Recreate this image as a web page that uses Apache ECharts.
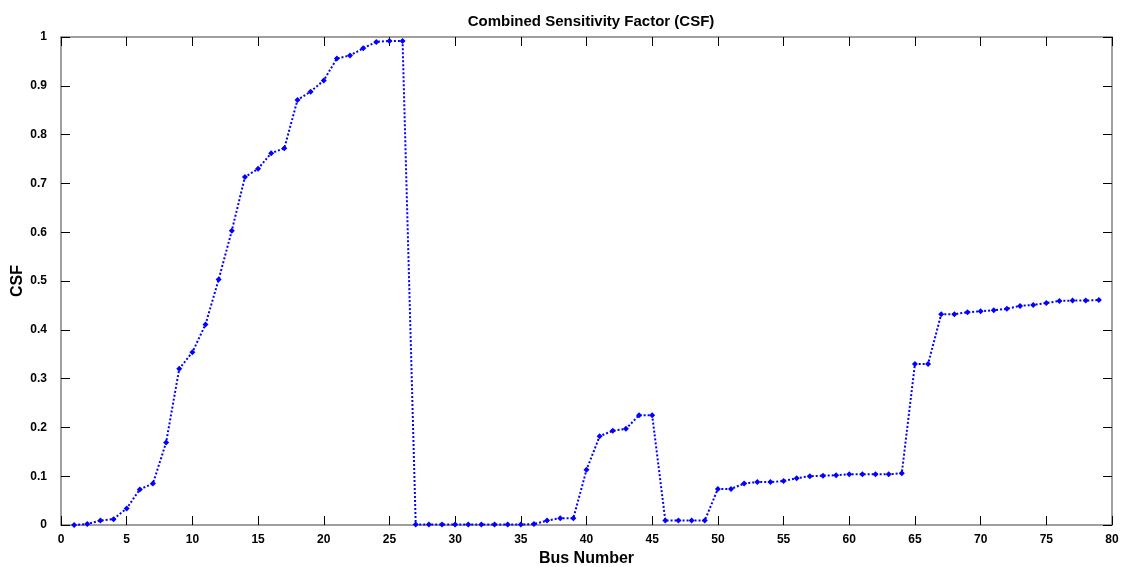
<!DOCTYPE html>
<html>
<head>
<meta charset="utf-8">
<script src="https://cdn.jsdelivr.net/npm/echarts@6/dist/echarts.min.js"></script>
<style>
  html, body { margin: 0; padding: 0; background: #fff; }
  #chart { width: 1124px; height: 567px; }
</style>
</head>
<body>
<div id="chart"></div>
<script>
var busNumbers = [1, 2, 3, 4, 5, 6, 7, 8, 9, 10, 11, 12, 13, 14, 15, 16, 17, 18, 19, 20,
  21, 22, 23, 24, 25, 26, 27, 28, 29, 30, 31, 32, 33, 34, 35, 36, 37, 38, 39, 40,
  41, 42, 43, 44, 45, 46, 47, 48, 49, 50, 51, 52, 53, 54, 55, 56, 57, 58, 59, 60,
  61, 62, 63, 64, 65, 66, 67, 68, 69, 70, 71, 72, 73, 74, 75, 76, 77, 78, 79];
var csfValues = [0.000, 0.002, 0.009, 0.012, 0.034, 0.073, 0.085, 0.169, 0.320, 0.354,
  0.411, 0.503, 0.603, 0.713, 0.730, 0.762, 0.772, 0.871, 0.888, 0.911,
  0.956, 0.962, 0.977, 0.990, 0.992, 0.992, 0.001, 0.001, 0.001, 0.001,
  0.001, 0.001, 0.001, 0.001, 0.001, 0.002, 0.009, 0.014, 0.014, 0.113,
  0.182, 0.193, 0.197, 0.225, 0.225, 0.009, 0.009, 0.009, 0.009, 0.074,
  0.074, 0.085, 0.088, 0.088, 0.090, 0.096, 0.100, 0.101, 0.102, 0.104,
  0.104, 0.104, 0.104, 0.106, 0.330, 0.330, 0.432, 0.432, 0.436, 0.438,
  0.440, 0.443, 0.449, 0.451, 0.455, 0.459, 0.460, 0.460, 0.461];
var xTicks = [0, 80, 5];   // min, max, interval
var yTicks = [0, 1, 0.1];

var chart = echarts.init(document.getElementById('chart'));
var fontFamily = 'Liberation Sans, Arial, sans-serif';

function labelStyle(margin) {
  return {
    show: true,
    margin: margin,
    color: '#000',
    fontSize: 12,
    fontWeight: 'bold',
    fontFamily: fontFamily
  };
}
function axisLine() {
  return { show: true, onZero: false, lineStyle: { color: '#808080', width: 1.5 } };
}
function axisTick() {
  return { show: true, inside: true, length: 9, lineStyle: { color: '#000', width: 1 } };
}
function nameStyle() {
  return { fontSize: 16, fontWeight: 'bold', color: '#000', fontFamily: fontFamily };
}

var points = busNumbers.map(function (b, i) { return [b, csfValues[i]]; });

var option = {
  animation: false,
  backgroundColor: '#fff',
  title: {
    text: 'Combined Sensitivity Factor (CSF)',
    left: 586,
    top: 9,
    textAlign: 'center',
    textStyle: { fontSize: 15, fontWeight: 'bold', color: '#000', fontFamily: fontFamily }
  },
  grid: {
    left: 61,
    right: 12,
    top: 37,
    bottom: 42,
    containLabel: false,
    outerBoundsMode: 'none'
  },
  xAxis: [{
    type: 'value',
    position: 'bottom',
    min: xTicks[0],
    max: xTicks[1],
    interval: xTicks[2],
    name: 'Bus Number',
    nameLocation: 'middle',
    nameGap: 24,
    nameTextStyle: nameStyle(),
    axisLine: axisLine(),
    axisTick: axisTick(),
    axisLabel: labelStyle(9),
    splitLine: { show: false }
  }, {
    type: 'value',
    position: 'top',
    min: xTicks[0],
    max: xTicks[1],
    interval: xTicks[2],
    axisLine: axisLine(),
    axisTick: axisTick(),
    axisLabel: { show: false },
    splitLine: { show: false }
  }],
  yAxis: [{
    type: 'value',
    position: 'left',
    min: yTicks[0],
    max: yTicks[1],
    interval: yTicks[2],
    name: 'CSF',
    nameLocation: 'middle',
    nameGap: 35,
    nameRotate: 90,
    nameMoveOverlap: false,
    nameTextStyle: nameStyle(),
    axisLine: axisLine(),
    axisTick: axisTick(),
    axisLabel: labelStyle(14),
    splitLine: { show: false }
  }, {
    type: 'value',
    position: 'right',
    min: yTicks[0],
    max: yTicks[1],
    interval: yTicks[2],
    axisLine: axisLine(),
    axisTick: axisTick(),
    axisLabel: { show: false },
    splitLine: { show: false }
  }],
  series: [{
    type: 'line',
    data: points,
    xAxisIndex: 0,
    yAxisIndex: 0,
    symbol: 'diamond',
    symbolSize: 6,
    showAllSymbol: true,
    itemStyle: { color: '#0000ff' },
    lineStyle: { color: '#0000ff', width: 2, type: 'dotted' }
  }]
};
chart.setOption(option);
</script>
</body>
</html>
